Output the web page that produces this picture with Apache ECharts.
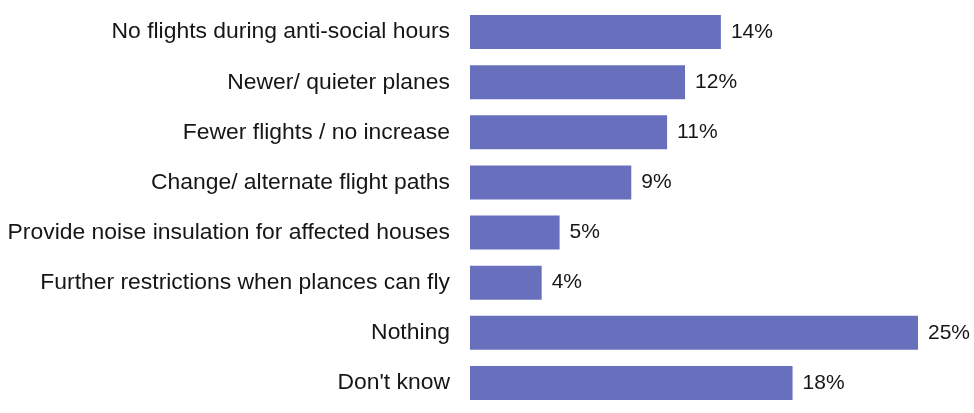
<!DOCTYPE html>
<html>
<head>
<meta charset="utf-8">
<script src="https://cdn.jsdelivr.net/npm/echarts@6/dist/echarts.min.js"></script>
<style>
  html, body { margin: 0; padding: 0; background: #ffffff; }
  #chart { width: 974px; height: 413px; }
</style>
</head>
<body>
<div id="chart"></div>
<script>
// Survey answers, listed top to bottom
const categories = [
  'No flights during anti-social hours',
  'Newer/ quieter planes',
  'Fewer flights / no increase',
  'Change/ alternate flight paths',
  'Provide noise insulation for affected houses',
  'Further restrictions when plances can fly',
  'Nothing',
  "Don't know"
];
// Share of respondents (%)
const values = [14, 12, 11, 9, 5, 4, 25, 18];

const chart = echarts.init(document.getElementById('chart'));
chart.setOption({
  animation: false,
  grid: { left: 470, right: 56, top: 7, bottom: 5, containLabel: false },
  xAxis: {
    type: 'value', min: 0, max: 25,
    show: false
  },
  yAxis: {
    type: 'category',
    data: categories,
    inverse: true,
    axisLine: { show: false },
    axisTick: { show: false },
    axisLabel: {
      margin: 20,
      color: '#161616',
      fontFamily: 'Liberation Sans, Arial, sans-serif',
      fontSize: 22.9
    }
  },
  series: [{
    type: 'bar',
    data: values,
    barWidth: 34,
    itemStyle: { color: '#6870bd' },
    label: {
      show: true,
      position: 'right',
      distance: 10,
      formatter: '{c}%',
      color: '#161616',
      fontFamily: 'Liberation Sans, Arial, sans-serif',
      fontSize: 21
    }
  }]
});
</script>
</body>
</html>
